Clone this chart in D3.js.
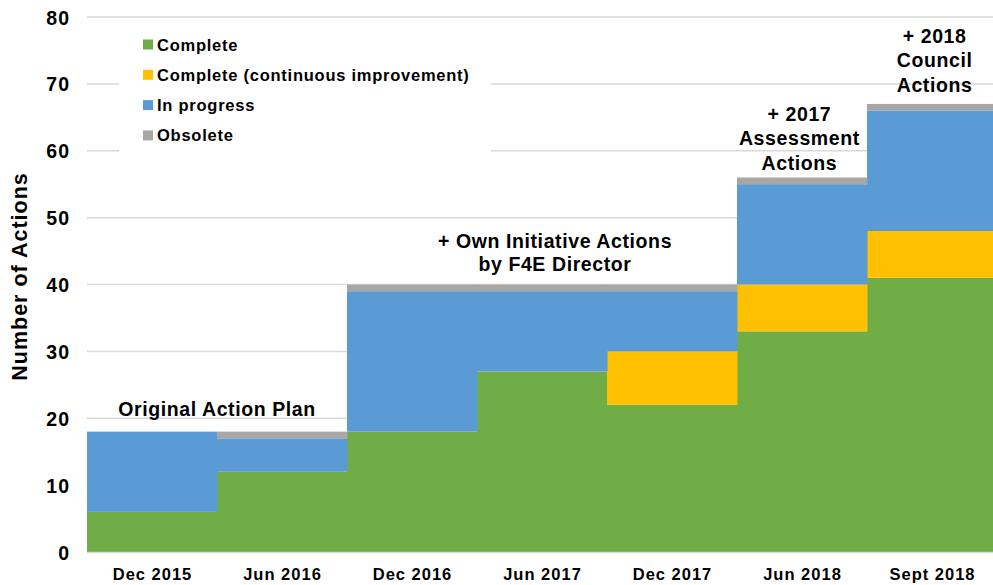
<!DOCTYPE html>
<html>
<head>
<meta charset="utf-8">
<script src="https://cdn.jsdelivr.net/npm/d3@7"></script>
<style>
  body { margin: 0; background: #fff; }
  text { font-family: "Liberation Sans", Arial, sans-serif; font-weight: bold; fill: #000; }
</style>
</head>
<body>
<div id="chart-area"></div>
<script>
// data
let periods = ["Dec 2015", "Jun 2016", "Dec 2016", "Jun 2017", "Dec 2017", "Jun 2018", "Sept 2018"];
let complete = [6, 12, 18, 27, 22, 33, 41];
let completeCI = [0, 0, 0, 0, 8, 7, 7];
let inProgress = [12, 5, 21, 12, 9, 15, 18];
let obsolete = [0, 1, 1, 1, 1, 1, 1];
let seriesNames = ["Complete", "Complete (continuous improvement)", "In progress", "Obsolete"];
let yTicks = [0, 10, 20, 30, 40, 50, 60, 70, 80];

let colors = ["#70AD47", "#FFC000", "#5B9BD5", "#A9A6A6"];

let margin = { left: 87, right: -4, top: 17, bottom: 33 };
let width = 993 - margin.left - margin.right;
let height = 585 - margin.top - margin.bottom;

let svg = d3.select("#chart-area")
    .append("svg")
    .attr("width", 993)
    .attr("height", 585)
    .append("g")
    .attr("transform", "translate(" + margin.left + "," + margin.top + ")");

let x = d3.scaleBand()
    .domain(periods)
    .range([0, width])
    .padding(0);

let y = d3.scaleLinear()
    .domain([0, 80])
    .range([height, 0]);

// table for stacking
let table = periods.map((p, i) => ({
    period: p,
    "Complete": complete[i],
    "Complete (continuous improvement)": completeCI[i],
    "In progress": inProgress[i],
    "Obsolete": obsolete[i]
}));
let stacked = d3.stack().keys(seriesNames)(table);

// gridlines
svg.append("g")
    .attr("class", "grid")
    .selectAll("line")
    .data(yTicks.filter(d => d > 0))
    .enter()
    .append("line")
    .attr("x1", 0)
    .attr("x2", width)
    .attr("y1", d => y(d))
    .attr("y2", d => y(d))
    .attr("stroke", "#D9D9D9")
    .attr("stroke-width", 1.5);

// legend background covers gridlines
svg.append("rect")
    .attr("x", 32)
    .attr("y", 13)
    .attr("width", 372)
    .attr("height", 126)
    .attr("fill", "#fff");

// bars
let layers = svg.append("g").attr("class", "bars-group")
    .selectAll("g")
    .data(stacked)
    .enter()
    .append("g")
    .attr("fill", (d, i) => colors[i]);

layers.selectAll("rect")
    .data(d => d)
    .enter()
    .append("rect")
    .attr("x", d => x(d.data.period))
    .attr("width", x.bandwidth() + 0.5)
    .attr("y", d => y(d[1]))
    .attr("height", d => y(d[0]) - y(d[1]));

// x axis line
svg.append("line")
    .attr("x1", 0)
    .attr("x2", width)
    .attr("y1", height + 0.5)
    .attr("y2", height + 0.5)
    .attr("stroke", "#D9D9D9")
    .attr("stroke-width", 1.5);

// X axis
let xAxis = d3.axisBottom(x).tickSize(0).tickPadding(0);
svg.append("g")
    .attr("class", "x-axis")
    .attr("transform", "translate(0," + height + ")")
    .call(xAxis)
    .call(g => g.select(".domain").remove())
    .selectAll("text")
    .attr("dy", null)
    .attr("y", 28)
    .attr("dx", "0.5px")
    .style("font-size", "16.5px")
    .style("letter-spacing", "1px")
    .style("font-family", "Liberation Sans, Arial, sans-serif")
    .style("font-weight", "bold");

// Y axis
let yAxis = d3.axisLeft(y).tickValues(yTicks).tickSize(0).tickPadding(17);
svg.append("g")
    .attr("class", "y-axis")
    .call(yAxis)
    .call(g => g.select(".domain").remove())
    .selectAll("text")
    .attr("dy", "0.36em")
    .style("font-size", "19.5px")
    .style("letter-spacing", "1px")
    .style("font-family", "Liberation Sans, Arial, sans-serif")
    .style("font-weight", "bold");

// Y axis label
svg.append("text")
    .attr("class", "y-axis-label")
    .attr("transform", "rotate(-90)")
    .attr("x", -(height / 2) + 8)
    .attr("y", -60)
    .attr("text-anchor", "middle")
    .style("font-size", "21.5px")
    .style("letter-spacing", "1px")
    .text("Number of Actions");

// legend items
let legend = svg.append("g")
    .attr("transform", "translate(45,13)");
let items = legend.selectAll(".item")
    .data(seriesNames)
    .enter()
    .append("g")
    .attr("class", "item")
    .attr("transform", (d, i) => "translate(0," + (i * 30.3) + ")");
items.append("rect")
    .attr("x", 11)
    .attr("y", 9.5)
    .attr("width", 10)
    .attr("height", 10)
    .attr("fill", (d, i) => colors[i]);
items.append("text")
    .attr("x", 25)
    .attr("y", 20.5)
    .style("font-size", "16.5px")
    .style("letter-spacing", "0.75px")
    .text(d => d);

// annotations
function note(lines, cx, yBase, lh) {
    let t = svg.append("text")
        .attr("text-anchor", "middle")
        .style("font-size", "19.5px")
        .style("letter-spacing", "0.6px");
    lines.forEach((l, i) => {
        t.append("tspan")
            .attr("x", cx)
            .attr("y", yBase + i * lh)
            .text(l);
    });
}
note(["Original Action Plan"], x("Dec 2015") + x.bandwidth(), y(18) - 16, 0);
note(["+ Own Initiative Actions", "by F4E Director"], x("Jun 2017") + x.bandwidth() * 0.6, y(40) - 37, 23.5);
note(["+ 2017", "Assessment", "Actions"], x("Jun 2018") + x.bandwidth() * 0.48, y(56) - 57, 24.5);
note(["+ 2018", "Council", "Actions"], x("Sept 2018") + x.bandwidth() * 0.52, y(67) - 61, 24.5);
</script>
</body>
</html>
